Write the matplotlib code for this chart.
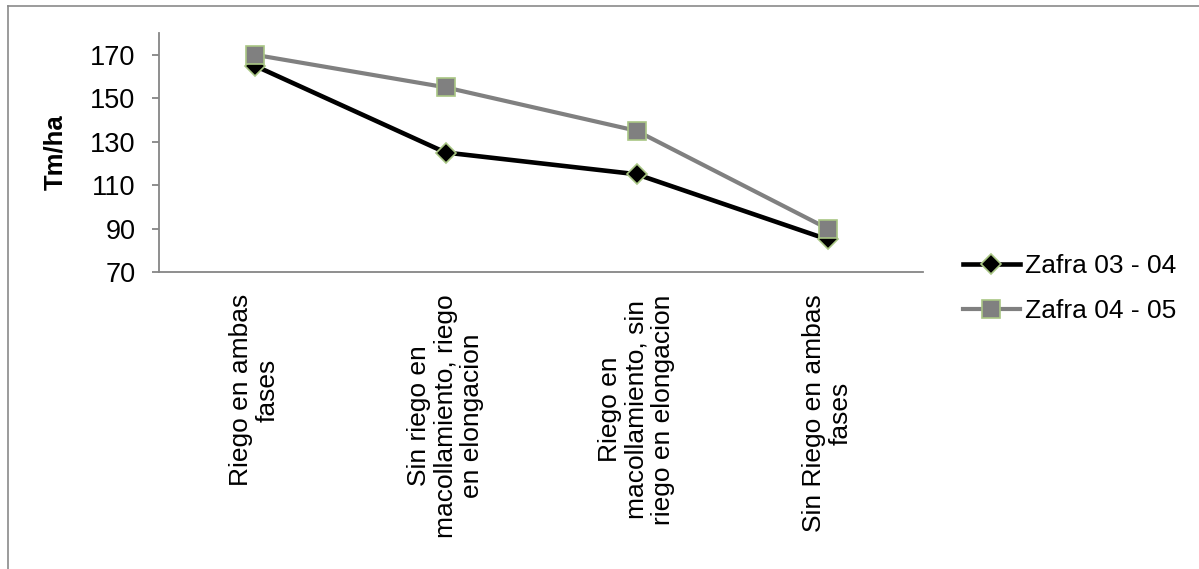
import matplotlib
matplotlib.use("Agg")
import matplotlib.pyplot as plt
from matplotlib.lines import Line2D

plt.rcParams["font.family"] = ["Liberation Sans", "DejaVu Sans"]

categories = [
    "Riego en ambas\nfases",
    "Sin riego en\nmacollamiento, riego\nen elongacion",
    "Riego en\nmacollamiento, sin\nriego en elongacion",
    "Sin Riego en ambas\nfases",
]
zafra_03_04 = [165, 125, 115, 85]
zafra_04_05 = [170, 155, 135, 90]
y_ticks = [70, 90, 110, 130, 150, 170]

W, H = 1199, 569
fig = plt.figure(figsize=(W / 100, H / 100), dpi=100)
fig.patch.set_facecolor("white")

# outer frame (top and left edges)
frame_col = "#8a8a8a"
fig.add_artist(Line2D([7.5 / W, 7.5 / W], [0, 1 - 5.5 / H], transform=fig.transFigure,
                      color=frame_col, lw=1.2))
fig.add_artist(Line2D([7.5 / W, 1], [1 - 5.5 / H, 1 - 5.5 / H], transform=fig.transFigure,
                      color=frame_col, lw=1.2))

left, right, top, bottom = 159, 923, 33, 272
ax = fig.add_axes([left / W, 1 - bottom / H, (right - left) / W, (bottom - top) / H])

x = list(range(len(categories)))
edge = "#a9c684"
ax.plot(x, zafra_03_04, color="black", lw=3.3, marker="D", ms=10,
        markerfacecolor="black", markeredgecolor=edge, markeredgewidth=1.2,
        label="Zafra 03 - 04", zorder=3)
ax.plot(x, zafra_04_05, color="#808080", lw=3.0, marker="s", ms=13.5,
        markerfacecolor="#808080", markeredgecolor=edge, markeredgewidth=1.2,
        label="Zafra 04 - 05", zorder=4)

ax.set_xlim(-0.5, len(categories) - 0.5)
ax.set_ylim(70, 180)
ax.set_yticks(y_ticks)
ax.set_xticks(x)
ax.set_xticklabels(categories, rotation=90, va="top", ha="center",
                   multialignment="center", fontsize=19, linespacing=1.12)

axis_col = "#868686"
for s in ("top", "right"):
    ax.spines[s].set_visible(False)
for s in ("left", "bottom"):
    ax.spines[s].set_color(axis_col)
    ax.spines[s].set_linewidth(1.3)

ax.tick_params(axis="y", direction="out", length=5, width=1.3, color=axis_col,
               labelsize=19.5, pad=12)
ax.tick_params(axis="x", length=0, pad=16)

ax.set_ylabel("Tm/ha", fontsize=18.5, fontweight="bold", va="center")
ax.yaxis.set_label_coords((55 - left) / (right - left), 0.5)

fig.legend(loc="center left", bbox_to_anchor=(963 / W, 1 - 288.5 / H),
           frameon=False, fontsize=19, handlelength=2.15, handletextpad=0.2,
           labelspacing=0.8, borderpad=0, borderaxespad=0, numpoints=1)

fig.savefig("out.png", dpi=100, facecolor="white")
